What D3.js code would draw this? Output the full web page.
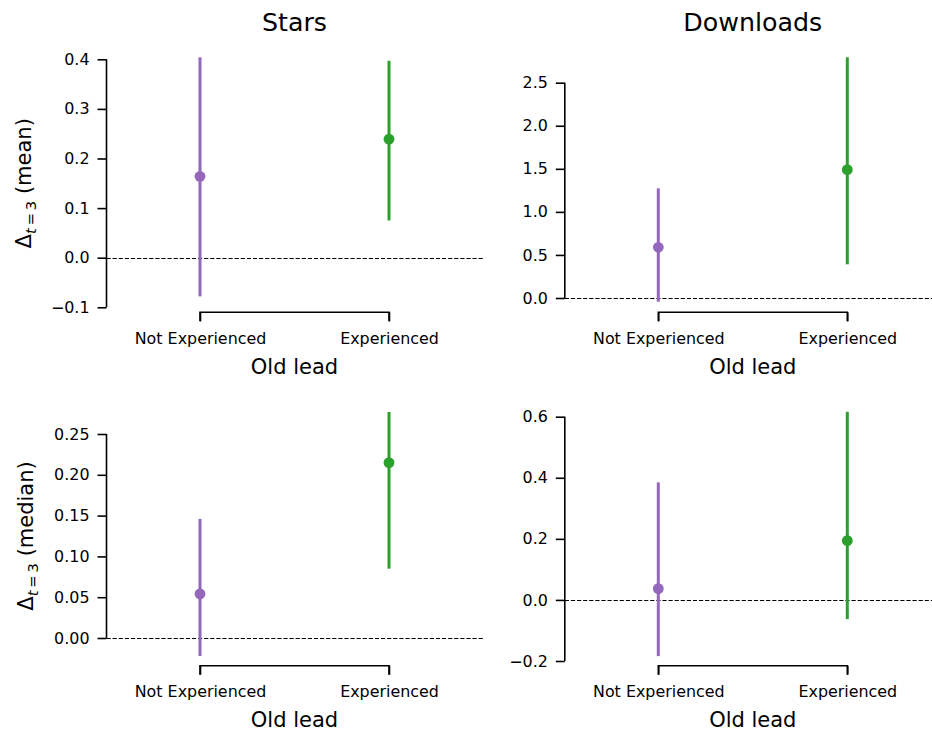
<!DOCTYPE html>
<html>
<head>
<meta charset="utf-8">
<script src="https://cdn.jsdelivr.net/npm/d3@7"></script>
<style>
  body { margin: 0; background: #fff; }
  svg { display: block; font-family: "DejaVu Sans", sans-serif; }
</style>
</head>
<body>
<svg id="chart" width="932" height="733"></svg>
<script>
// ---- data ----
const categories = ["Not Experienced", "Experienced"];
const colors = ["#9467bd", "#2ca02c"];
const columnTitles = ["Stars", "Downloads"];
const rowLabels = ["mean", "median"];
const xLabel = "Old lead";

const starsMeanPoint = [0.164, 0.239];
const starsMeanLow   = [-0.078, 0.075];
const starsMeanHigh  = [0.404, 0.397];

const downloadsMeanPoint = [0.589, 1.49];
const downloadsMeanLow   = [-0.043, 0.391];
const downloadsMeanHigh  = [1.274, 2.795];

const starsMedianPoint = [0.054, 0.215];
const starsMedianLow   = [-0.022, 0.085];
const starsMedianHigh  = [0.146, 0.277];

const downloadsMedianPoint = [0.037, 0.194];
const downloadsMedianLow   = [-0.184, -0.063];
const downloadsMedianHigh  = [0.385, 0.616];

const starsMeanTicks = [-0.1, 0.0, 0.1, 0.2, 0.3, 0.4];
const downloadsMeanTicks = [0.0, 0.5, 1.0, 1.5, 2.0, 2.5];
const starsMedianTicks = [0.00, 0.05, 0.10, 0.15, 0.20, 0.25];
const downloadsMedianTicks = [-0.2, 0.0, 0.2, 0.4, 0.6];

// ---- layout ----
const svg = d3.select("#chart");
const colLeft = [105.5, 563.8];
const colWidth = 378;
const rowSpine = [312.3, 665.7];

const panels = [
  {row: 0, col: 0, point: starsMeanPoint, low: starsMeanLow, high: starsMeanHigh,
   ticks: starsMeanTicks, fmt: ".1f", range: [307.3, 59.3]},
  {row: 0, col: 1, point: downloadsMeanPoint, low: downloadsMeanLow, high: downloadsMeanHigh,
   ticks: downloadsMeanTicks, fmt: ".1f", range: [298, 82.7]},
  {row: 1, col: 0, point: starsMedianPoint, low: starsMedianLow, high: starsMedianHigh,
   ticks: starsMedianTicks, fmt: ".2f", range: [638, 434]},
  {row: 1, col: 1, point: downloadsMedianPoint, low: downloadsMedianLow, high: downloadsMedianHigh,
   ticks: downloadsMedianTicks, fmt: ".1f", range: [661, 416.7]}
];

const tickLen = 9, spineW = 1.6, tickFont = 15.9, labelFont = 21, titleFont = 25.3;

panels.forEach(p => {
  const left = colLeft[p.col];
  const x = d3.scalePoint().domain(categories).range([left, left + colWidth]).padding(0.5);
  const y = d3.scaleLinear().domain([p.ticks[0], p.ticks[p.ticks.length - 1]]).range(p.range);
  const g = svg.append("g");
  const spineX = left + 1;
  const fmt = d3.format(p.fmt);

  // zero reference line
  const y0 = Math.round(y(0)) + 0.5;
  g.append("line")
    .attr("x1", spineX).attr("x2", left + colWidth)
    .attr("y1", y0).attr("y2", y0)
    .attr("stroke", "#000").attr("stroke-width", 1.1).attr("stroke-dasharray", "4.2,1.9");

  // y axis (trimmed spine)
  const yAxis = d3.axisLeft(y).tickValues(p.ticks).tickSize(tickLen).tickPadding(8)
    .tickFormat(d => fmt(d).replace("-", "\u2212"));
  const ya = g.append("g").attr("transform", `translate(${spineX},0)`).call(yAxis);
  ya.select(".domain").attr("d", `M0,${y(p.ticks[0])}V${y(p.ticks[p.ticks.length - 1])}`)
    .attr("stroke-width", spineW);
  ya.selectAll(".tick line").attr("stroke-width", spineW);
  ya.selectAll(".tick text").attr("font-size", tickFont).attr("fill", "#000")
    .attr("font-family", "DejaVu Sans, sans-serif");

  // x axis (trimmed spine)
  const xAxis = d3.axisBottom(x).tickSize(tickLen).tickPadding(11.5);
  const xa = g.append("g").attr("transform", `translate(0,${rowSpine[p.row]})`).call(xAxis);
  xa.select(".domain").attr("d", `M${x(categories[0])},${tickLen}V0H${x(categories[1])}V${tickLen}`)
    .attr("stroke-width", spineW);
  xa.selectAll(".tick line").attr("stroke-width", spineW);
  xa.selectAll(".tick text").attr("font-size", tickFont).attr("fill", "#000")
    .attr("font-family", "DejaVu Sans, sans-serif");

  // x label
  g.append("text").attr("x", left + colWidth / 2).attr("y", rowSpine[p.row] + 61.5)
    .attr("text-anchor", "middle").attr("font-size", labelFont).text(xLabel);

  // error bars
  categories.forEach((c, i) => {
    g.append("line")
      .attr("x1", x(c)).attr("x2", x(c))
      .attr("y1", y(p.low[i])).attr("y2", y(p.high[i]))
      .attr("stroke", colors[i]).attr("stroke-width", 3);
    g.append("circle").attr("cx", x(c)).attr("cy", y(p.point[i]))
      .attr("r", 5.4).attr("fill", colors[i]);
  });

  // titles
  if (p.row === 0) {
    g.append("text").attr("x", left + colWidth / 2).attr("y", 30.5)
      .attr("text-anchor", "middle").attr("font-size", titleFont).text(columnTitles[p.col]);
  }
  // y label
  if (p.col === 0) {
    const cy = (p.range[0] + p.range[1]) / 2;
    const t = g.append("text")
      .attr("transform", `translate(${p.row === 0 ? 31 : 33},${cy}) rotate(-90)`)
      .attr("text-anchor", "middle").attr("font-size", labelFont);
    t.append("tspan").text("\u0394");
    t.append("tspan").attr("dy", 5).attr("font-size", labelFont * 0.7).attr("font-style", "italic").text("t");
    t.append("tspan").attr("font-size", labelFont * 0.7).text("\u2009=\u20093");
    t.append("tspan").attr("dy", -5).text(" (" + rowLabels[p.row] + ")");
  }
});
</script>
</body>
</html>
